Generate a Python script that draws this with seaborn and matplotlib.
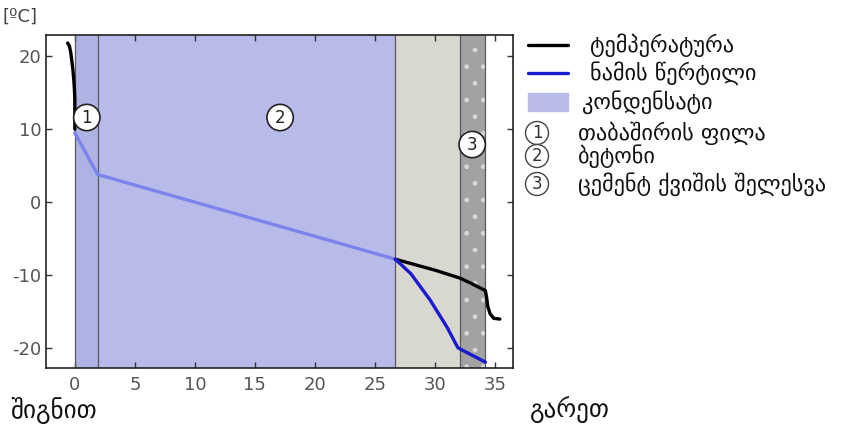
import matplotlib
matplotlib.use("Agg")
import matplotlib.pyplot as plt
from matplotlib.lines import Line2D
from matplotlib.patches import Rectangle
import seaborn as sns

# ---- data ----
layer_bounds = [0.0, 1.9, 26.7, 32.1, 34.2]

temp_in_x = [-0.6, -0.45, -0.35, -0.25, -0.15, -0.08, -0.03, 0.0, 0.0]
temp_in_y = [21.8, 21.4, 20.6, 19.4, 18.0, 16.6, 15.4, 14.0, 10.0]

cond_x = [0.0, 1.9, 26.7]
cond_y = [9.5, 3.8, -7.8]

temp_out_x = [26.7, 28.0, 30.0, 32.1, 33.0, 34.2, 34.3, 34.4, 34.6, 34.9, 35.4]
temp_out_y = [-7.8, -8.4, -9.3, -10.4, -11.1, -12.1, -13.0, -14.3, -15.3, -15.9, -16.0]

dew_x = [26.7, 28.0, 29.6, 31.0, 31.9, 32.1, 34.2]
dew_y = [-7.8, -9.8, -13.4, -17.1, -19.9, -20.1, -21.9]

marker_labels = ["1", "2", "3"]
marker_x = [1.0, 17.1, 33.1]
marker_y = [11.6, 11.6, 7.9]

legend_labels = ["ტემპერატურა", "ნამის წერტილი", "კონდენსატი"]
layer_names = ["თაბაშირის ფილა", "ბეტონი", "ცემენტ ქვიშის შელესვა"]
x_ticks = [0, 5, 10, 15, 20, 25, 30, 35]
y_ticks = [-20, -10, 0, 10, 20]

sns.set_theme(style="white")
plt.rcParams['font.family'] = ['DejaVu Sans']
plt.rcParams['axes.unicode_minus'] = False
plt.rcParams['hatch.linewidth'] = 1.0

fig = plt.figure(figsize=(8.44, 4.32), dpi=100)
ax = fig.add_axes([46/844, 1 - 368/432, (513-46)/844, (368-35)/432])

# layers
ax.axvspan(layer_bounds[0], layer_bounds[1], color="#afb3e4", lw=0, zorder=0)
ax.axvspan(layer_bounds[1], layer_bounds[2], color="#b8bbea", lw=0, zorder=0)
ax.axvspan(layer_bounds[2], layer_bounds[3], facecolor="#d8d8d1", lw=0, zorder=0)
ax.axvspan(layer_bounds[3], layer_bounds[4], facecolor="#a2a2a2", edgecolor="#d8d8d8",
           hatch=".", lw=0, zorder=0)
for b in layer_bounds:
    ax.axvline(b, color="#5a5a5a", lw=0.9, zorder=1)

sns.lineplot(x=temp_in_x, y=temp_in_y, ax=ax, color="black", lw=2.4, sort=False,
             estimator=None, zorder=3)
sns.lineplot(x=cond_x, y=cond_y, ax=ax, color="#7b84ea", lw=2.4, sort=False,
             estimator=None, zorder=3)
sns.lineplot(x=temp_out_x, y=temp_out_y, ax=ax, color="black", lw=2.4, sort=False,
             estimator=None, zorder=3)
sns.lineplot(x=dew_x, y=dew_y, ax=ax, color="#1a1ad0", lw=2.4, sort=False,
             estimator=None, zorder=3)

for lab, mx, my in zip(marker_labels, marker_x, marker_y):
    ax.text(mx, my, lab, ha="center", va="center", fontsize=12, color="#222222", zorder=5,
            bbox=dict(boxstyle="circle,pad=0.25", fc="white", ec="#222222", lw=1.2))

ax.set_xlim(-2.4, 36.5)
ax.set_ylim(-22.7, 22.9)
ax.set_xticks(x_ticks)
ax.set_yticks(y_ticks)
ax.tick_params(direction="in", length=4, width=1, colors="#333333", labelsize=13,
               top=True, right=True, bottom=True, left=True, labelcolor="#555555")
ax.tick_params(axis="x", pad=6)
for s in ax.spines.values():
    s.set_color("#222222")
    s.set_linewidth(1.2)

fig.text(2/844, 1 - 17/432, "[ºC]", fontsize=13, color="#444444", va="center", ha="left")
fig.text(10/844, 1 - 410/432, "შიგნით", fontsize=18, color="#111111", va="center", ha="left")
fig.text(530/844, 1 - 410/432, "გარეთ", fontsize=18, color="#111111", va="center", ha="left")

# legend (manual)
fig.add_artist(Line2D([528/844, 568/844], [1 - 45/432] * 2, color="black", lw=2.4))
fig.add_artist(Line2D([528/844, 568/844], [1 - 73/432] * 2, color="#1a1ad0", lw=2.4))
fig.add_artist(Rectangle((528/844, 1 - 111/432), 40/844, 18/432, color="#b8bbea",
                         transform=fig.transFigure))
for lab, yy, xx in zip(legend_labels, [45, 73, 102], [590, 590, 582]):
    fig.text(xx/844, 1 - yy/432, lab, fontsize=16, color="#111111", va="center", ha="left")
for lab, name, yy in zip(marker_labels, layer_names, [133, 156, 184]):
    fig.text(537/844, 1 - yy/432, lab, fontsize=12, color="#333333", va="center", ha="center",
             bbox=dict(boxstyle="circle,pad=0.15", fc="white", ec="#444444", lw=1.0))
    fig.text(578/844, 1 - yy/432, name, fontsize=16, color="#111111", va="center", ha="left")

fig.savefig("out.png", dpi=100)
